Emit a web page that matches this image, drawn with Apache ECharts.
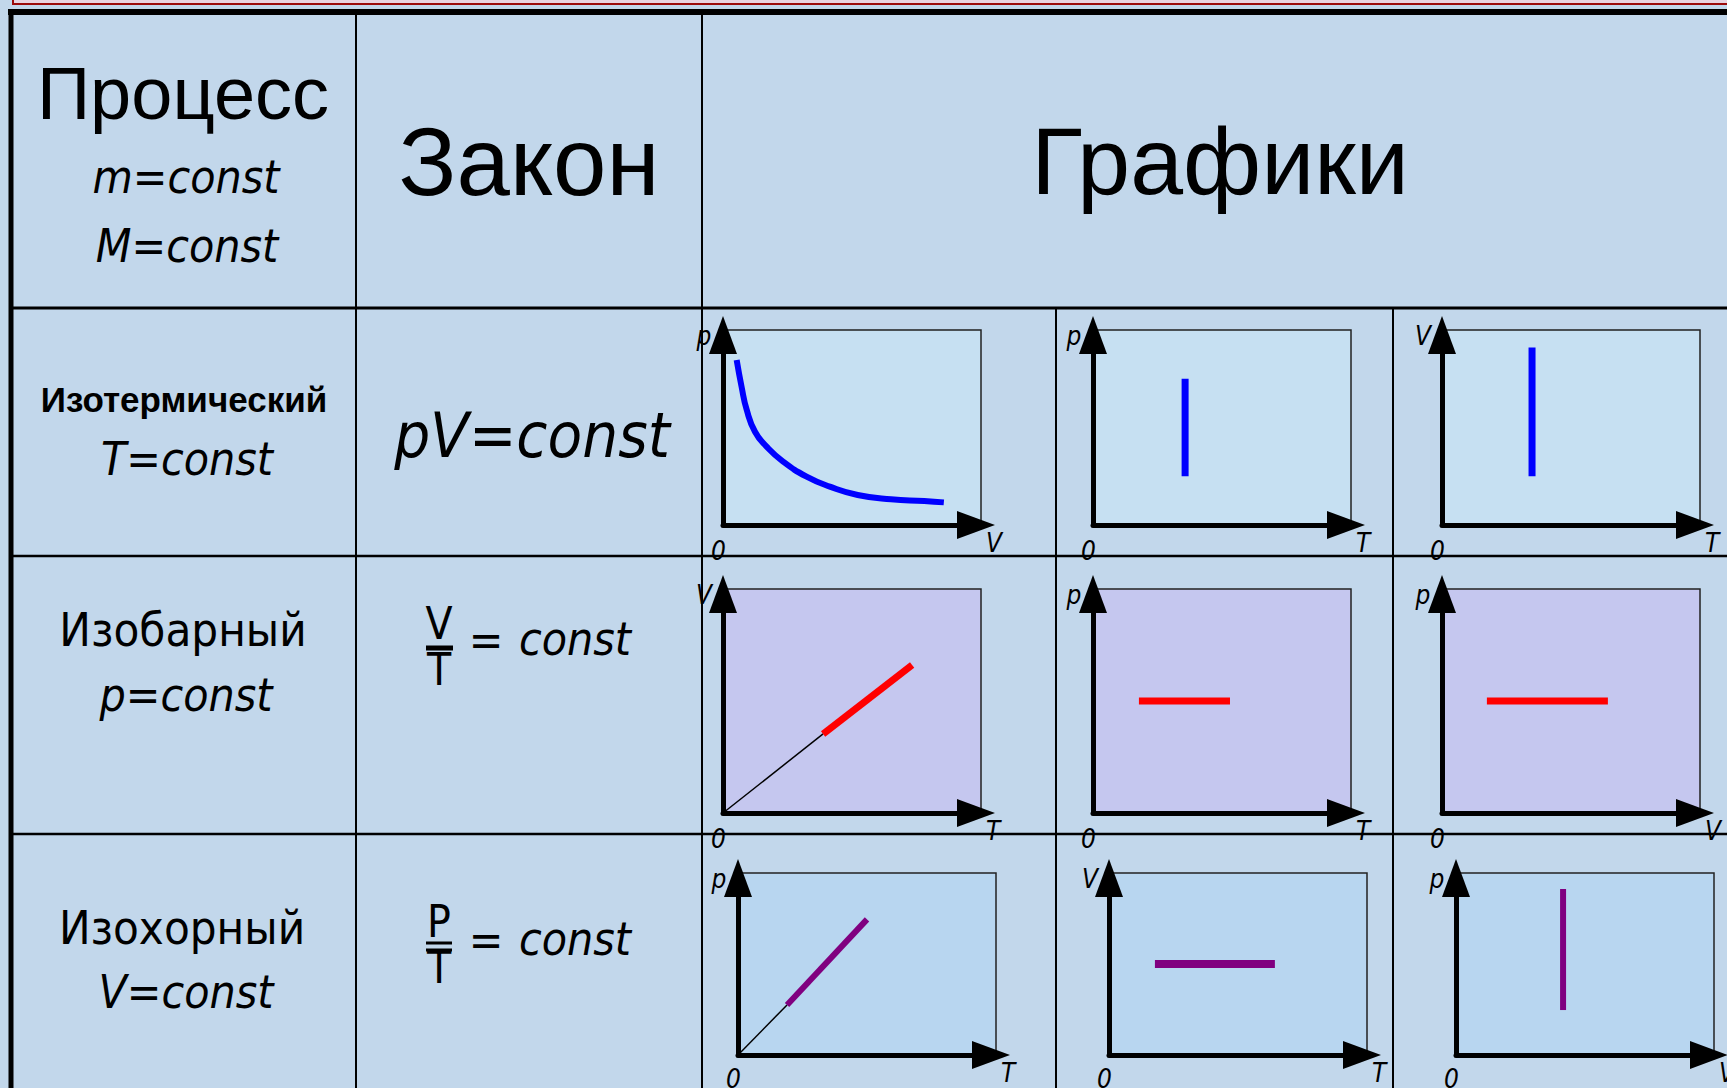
<!DOCTYPE html>
<html>
<head>
<meta charset="utf-8">
<title>Изопроцессы</title>
<script src="https://cdn.jsdelivr.net/npm/echarts@6/dist/echarts.min.js"></script>
<style>
  html, body { margin: 0; padding: 0; background: #C2D7EB; overflow: hidden; }
  #chart { width: 1727px; height: 1088px; }
</style>
</head>
<body>
<div id="chart"></div>
<script>
// данные графиков (условные единицы, оси 0..10)
const isothermPV = [[0.53, 8.46], [0.72, 7.09], [0.92, 5.90], [1.24, 4.78], [1.69, 4.02], [2.33, 3.25],
  [3.24, 2.48], [4.14, 1.97], [5.22, 1.54], [6.51, 1.32], [7.80, 1.23], [8.56, 1.16]]
const isothermPT = [[3.57, 2.5], [3.57, 7.5]]
const isothermVT = [[3.49, 2.5], [3.49, 9.1]]
const isobarVTGuide = [[0, 0], [3.88, 3.53]]
const isobarVT = [[3.88, 3.53], [7.33, 6.61]]
const isobarPT = [[1.78, 5.0], [5.31, 5.0]]
const isobarPV = [[1.74, 5.0], [6.43, 5.0]]
const isochorPTGuide = [[0, 0], [1.9, 2.75]]
const isochorPT = [[1.9, 2.75], [5.0, 7.45]]
const isochorVT = [[1.78, 5.0], [6.43, 5.0]]
const isochorPV = [[4.15, 2.47], [4.15, 9.12]]

// подписи осей
const xNames = ['V', 'T', 'T', 'T', 'T', 'V', 'T', 'T', 'V']
const yNames = ['p', 'p', 'V', 'V', 'p', 'p', 'p', 'V', 'p']
const originLabel = '0'

// тексты таблицы
const headers = ['Процесс', 'Закон', 'Графики']
const headerConds = ['m=const', 'M=const']
const processNames = ['Изотермический', 'Изобарный', 'Изохорный']
const processConds = ['T=const', 'p=const', 'V=const']
const laws = ['pV=const', 'V', 'T', 'P', 'T', '=', 'const']

// положение графиков: left, top, width, height
const boxes = [
  [723, 330, 258, 195], [1093, 330, 258, 195], [1442, 330, 258, 195],
  [723, 589, 258, 224], [1093, 589, 258, 224], [1442, 589, 258, 224],
  [738, 873, 258, 182], [1109, 873, 258, 182], [1456, 873, 258, 182]
]
const rowFills = ['#C6E0F2', '#C5C7EF', '#B8D6F0']

const seriesDefs = [
  { grid: 0, data: isothermPV, color: '#0000FF', width: 6, smooth: true },
  { grid: 1, data: isothermPT, color: '#0000FF', width: 7 },
  { grid: 2, data: isothermVT, color: '#0000FF', width: 7 },
  { grid: 3, data: isobarVTGuide, color: '#000000', width: 1.5 },
  { grid: 3, data: isobarVT, color: '#FF0000', width: 7 },
  { grid: 4, data: isobarPT, color: '#FF0000', width: 7 },
  { grid: 5, data: isobarPV, color: '#FF0000', width: 7 },
  { grid: 6, data: isochorPTGuide, color: '#000000', width: 1.5 },
  { grid: 6, data: isochorPT, color: '#800080', width: 6 },
  { grid: 7, data: isochorVT, color: '#800080', width: 8 },
  { grid: 8, data: isochorPV, color: '#800080', width: 6 }
]

const labelFont = '"DejaVu Sans Condensed", "DejaVu Sans", sans-serif'
const arialFont = '"Liberation Sans", Arial, sans-serif'

const grids = boxes.map((b, i) => ({
  left: b[0], top: b[1], width: b[2], height: b[3],
  show: true,
  backgroundColor: rowFills[Math.floor(i / 3)],
  borderColor: '#222',
  borderWidth: 1.5,
  containLabel: false,
  outerBoundsMode: 'none'
}))

const axisLine = {
  show: true,
  onZero: false,
  symbol: ['none', 'triangle'],
  symbolSize: [28, 38],
  symbolOffset: [0, -5],
  lineStyle: { color: '#000', width: 5 }
}

const xAxes = boxes.map((b, i) => ({
  gridIndex: i,
  type: 'value',
  min: 0,
  max: 10,
  interval: 10,
  axisLine: axisLine,
  axisTick: { show: false },
  splitLine: { show: false },
  axisLabel: {
    show: true,
    showMaxLabel: false,
    formatter: v => (v === 0 ? originLabel : ''),
    align: 'center',
    verticalAlign: 'top',
    padding: [0, 9, 0, 0],
    margin: i >= 6 ? 11 : 13,
    color: '#000',
    fontSize: 26,
    fontStyle: 'italic',
    fontFamily: labelFont
  },
  name: xNames[i],
  nameLocation: 'end',
  nameGap: 5,
  nameMoveOverlap: false,
  nameTextStyle: {
    color: '#000', fontSize: 26, fontStyle: 'italic', fontFamily: labelFont,
    align: 'left', verticalAlign: 'top', padding: [5, 0, 0, 0]
  }
}))

const yAxes = boxes.map((b, i) => ({
  gridIndex: i,
  type: 'value',
  min: 0,
  max: 10,
  interval: 10,
  axisLine: axisLine,
  axisTick: { show: false },
  splitLine: { show: false },
  axisLabel: { show: false },
  name: yNames[i],
  nameLocation: 'end',
  nameGap: -6,
  nameMoveOverlap: false,
  nameTextStyle: {
    color: '#000', fontSize: 26, fontStyle: 'italic', fontFamily: labelFont,
    align: 'center', verticalAlign: 'middle', padding: [0, 38, 0, 0]
  }
}))

const series = seriesDefs.map(s => ({
  type: 'line',
  xAxisIndex: s.grid,
  yAxisIndex: s.grid,
  data: s.data,
  smooth: !!s.smooth,
  showSymbol: false,
  silent: true,
  lineStyle: { color: s.color, width: s.width, cap: 'butt' },
  z: 3
}))

// линии таблицы
const line = (x1, y1, x2, y2, w, color) => ({
  type: 'line',
  shape: { x1, y1, x2, y2 },
  style: { stroke: color || '#000', lineWidth: w },
  z: 1
})
const text = (t, x, y, font, align) => ({
  type: 'text',
  x, y,
  style: { text: t, font, fill: '#000', align: align || 'center', verticalAlign: 'middle' },
  z: 5
})

const graphics = [
  { type: 'rect', shape: { x: 13, y: 0, width: 1714, height: 4 }, style: { fill: '#E8D3E0' }, z: 0 },
  line(12, 4, 1727, 4, 2, '#9B0A0A'),
  line(13, 0, 13, 5, 2, '#9B0A0A'),
  line(8, 12, 1727, 12, 6),
  line(11, 9, 11, 1088, 5),
  line(356, 15, 356, 1088, 2),
  line(702, 15, 702, 1088, 2),
  line(13, 308, 1727, 308, 3),
  line(13, 556, 1727, 556, 2.5),
  line(13, 834, 1727, 834, 2.5),
  line(1056, 308, 1056, 1088, 2),
  line(1393, 308, 1393, 1088, 2),
  // заголовки
  text(headers[0], 183, 93, '74px ' + arialFont),
  text(headerConds[0], 186, 177, 'italic 46px ' + labelFont),
  text(headerConds[1], 187, 246, 'italic 46px ' + labelFont),
  text(headers[1], 529, 161, '96px ' + arialFont),
  text(headers[2], 1220, 161, '95px ' + arialFont),
  // процессы
  text(processNames[0], 184, 399, 'bold 35px ' + arialFont),
  text(processConds[0], 187, 459, 'italic 46px ' + labelFont),
  text(processNames[1], 183, 629, '47px ' + labelFont),
  text(processConds[1], 186, 695, 'italic 46px ' + labelFont),
  text(processNames[2], 182, 927, '47px ' + labelFont),
  text(processConds[2], 186, 992, 'italic 46px ' + labelFont),
  // законы
  text(laws[0], 532, 435, 'italic 63px ' + labelFont),
  text(laws[1], 439, 623, '44px ' + labelFont),
  line(426, 648, 453, 648, 5),
  text(laws[2], 439, 669, '44px ' + labelFont),
  text(laws[5], 486, 640, '46px ' + labelFont),
  text(laws[6], 519, 639, 'italic 46px ' + labelFont, 'left'),
  text(laws[3], 439, 921, '44px ' + labelFont),
  line(426, 943, 452, 943, 3),
  line(426, 950, 452, 950, 3),
  text(laws[4], 439, 967, '44px ' + labelFont),
  text(laws[5], 486, 940, '46px ' + labelFont),
  text(laws[6], 519, 939, 'italic 46px ' + labelFont, 'left')
]

const chart = echarts.init(document.getElementById('chart'), null, { renderer: 'svg' })
chart.setOption({
  animation: false,
  backgroundColor: '#C2D7EB',
  grid: grids,
  xAxis: xAxes,
  yAxis: yAxes,
  series: series,
  graphic: { elements: graphics }
})
</script>
</body>
</html>
